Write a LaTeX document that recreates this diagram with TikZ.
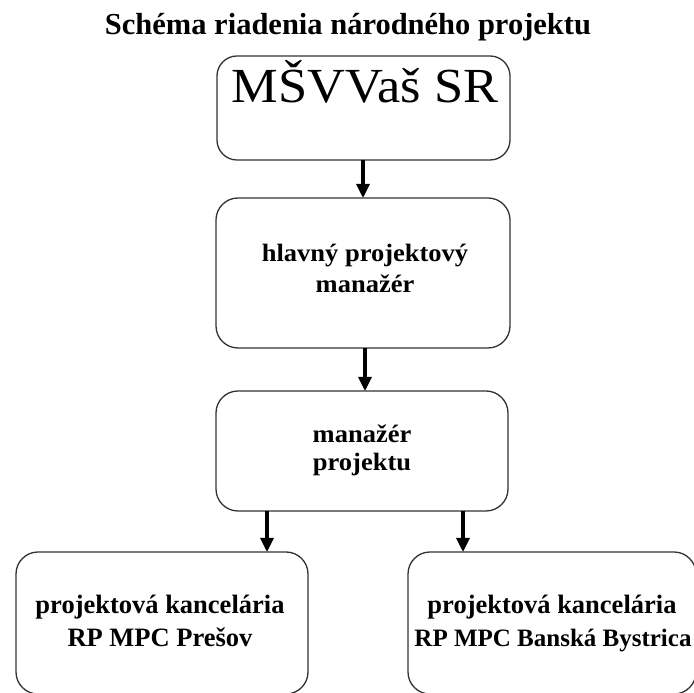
\documentclass[tikz,border=0pt]{standalone}
\usepackage{fontspec}
\setmainfont{Liberation Serif}
\newfontfamily\wideserif[FakeStretch=1.06]{Liberation Serif}
\newfontfamily\bigserif[FakeStretch=1.07]{Liberation Serif}
\usetikzlibrary{arrows.meta}
\tikzset{
  box/.style={draw=black!80, line width=1.3pt, rounded corners=22pt, fill=white, inner sep=0pt, outer sep=0pt},
  conn/.style={line width=3.2pt, -{Triangle[width=13pt,length=14pt]}},
  lbl/.style={anchor=base, inner sep=0pt, font=\wideserif\fontsize{25}{29}\selectfont\bfseries},
  lblb/.style={anchor=base, inner sep=0pt, font=\fontsize{26.5}{30}\selectfont\bfseries}
}
\begin{document}
\begin{tikzpicture}[x=1pt,y=1pt]
\useasboundingbox (0,0) rectangle (694,693);
\clip (0,0) rectangle (694,693);
\fill[white] (0,0) rectangle (694,693);
% title
\node[anchor=base, inner sep=0pt, font=\fontsize{30.5}{34}\selectfont\bfseries] (title) at (348,658) {Schéma riadenia národného projektu};
% boxes
\node[box, minimum width=293pt, minimum height=104pt, rounded corners=20pt] (b1) at (363.5,585) {};
\node[box, minimum width=294pt, minimum height=150pt] (b2) at (363,420) {};
\node[box, minimum width=292pt, minimum height=120pt] (b3) at (362,242) {};
\node[box, minimum width=292pt, minimum height=142pt] (b4) at (162,70) {};
\node[box, minimum width=288pt, minimum height=142pt] (b5) at (552,70) {};
% texts
\node[anchor=base, inner sep=0pt, font=\bigserif\fontsize{49}{53}\selectfont] (t1) at (365,590) {MŠVVaš SR};
\node[lbl] (t2a) at (365,431) {hlavný projektový};
\node[lbl] (t2b) at (365,400) {manažér};
\node[lbl] (t3a) at (362,250) {manažér};
\node[lbl] (t3b) at (362,222) {projektu};
\node[lblb] (t4a) at (160,79) {projektová kancelária};
\node[lblb] (t4b) at (160,46) {RP MPC Prešov};
\node[lblb] (t5a) at (552,79) {projektová kancelária};
\node[lblb, font=\fontsize{25}{29}\selectfont\bfseries] (t5b) at (553,46) {RP MPC Banská Bystrica};
% connectors
\draw[conn] (b1.south -| 363,0) -- (b2.north -| 363,0);
\draw[conn] (b2.south -| 365,0) -- (b3.north -| 365,0);
\draw[conn] (b3.south -| 267,0) -- (b4.north -| 267,0);
\draw[conn] (b3.south -| 463,0) -- (b5.north -| 463,0);
\end{tikzpicture}
\end{document}
